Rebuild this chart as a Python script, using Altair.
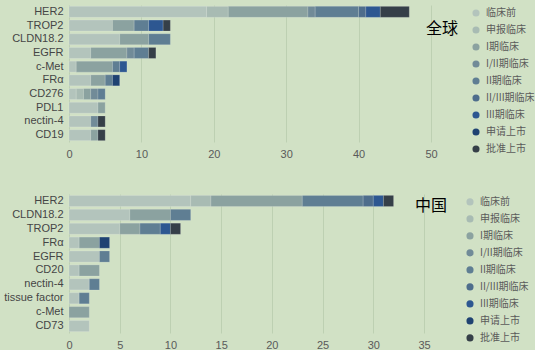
import altair as alt
import pandas as pd

stages = ["临床前", "申报临床", "I期临床", "I/II期临床", "II期临床",
          "II/III期临床", "III期临床", "申请上市", "批准上市"]
stage_colors = ["#b3c4bc", "#a8bbb3", "#8ba2a0", "#718b98", "#5f7e93",
                "#4e6d8c", "#2d5791", "#1f4272", "#353f48"]

# ---- 全球 ----
global_targets = ["HER2", "TROP2", "CLDN18.2", "EGFR", "c-Met", "FRα",
                  "CD276", "PDL1", "nectin-4", "CD19"]
g_preclinical = [19, 6, 7, 3, 1, 3, 1, 4, 3, 3]
g_ind = [3, 0, 0, 0, 0, 0, 1, 0, 0, 0]
g_p1 = [11, 3, 4, 5, 5, 2, 1, 1, 0, 1]
g_p12 = [1, 0, 0, 1, 0, 0, 1, 0, 1, 0]
g_p2 = [6, 2, 3, 2, 1, 1, 1, 0, 0, 0]
g_p23 = [1, 0, 0, 0, 0, 0, 0, 0, 0, 0]
g_p3 = [2, 2, 0, 0, 1, 0, 0, 0, 0, 0]
g_nda = [0, 0, 0, 0, 0, 1, 0, 0, 0, 0]
g_approved = [4, 1, 0, 1, 0, 0, 0, 0, 1, 1]

# ---- 中国 ----
china_targets = ["HER2", "CLDN18.2", "TROP2", "FRα", "EGFR", "CD20",
                 "nectin-4", "tissue factor", "c-Met", "CD73"]
c_preclinical = [12, 6, 5, 1, 3, 1, 2, 1, 0, 2]
c_ind = [2, 0, 0, 0, 0, 0, 0, 0, 0, 0]
c_p1 = [9, 4, 2, 2, 0, 2, 0, 0, 2, 0]
c_p12 = [0, 0, 0, 0, 0, 0, 0, 0, 0, 0]
c_p2 = [6, 2, 2, 0, 1, 0, 1, 1, 0, 0]
c_p23 = [1, 0, 0, 0, 0, 0, 0, 0, 0, 0]
c_p3 = [1, 0, 1, 0, 0, 0, 0, 0, 0, 0]
c_nda = [0, 0, 0, 1, 0, 0, 0, 0, 0, 0]
c_approved = [1, 0, 1, 0, 0, 0, 0, 0, 0, 0]

global_series = [g_preclinical, g_ind, g_p1, g_p12, g_p2, g_p23, g_p3, g_nda, g_approved]
china_series = [c_preclinical, c_ind, c_p1, c_p12, c_p2, c_p23, c_p3, c_nda, c_approved]

BG = "#d1e1c5"
CJK = "Noto Sans CJK SC"
LAT = "Liberation Sans"


def make_df(targets, series):
    rows = []
    for si, (stage, vals) in enumerate(zip(stages, series)):
        for t, v in zip(targets, vals):
            if v > 0:
                rows.append({"target": t, "stage": stage, "idx": si, "count": v})
    return pd.DataFrame(rows)


def panel(targets, series, xmax, step, label, lx, ly, legx, legy, cliph, w, h):
    df = make_df(targets, series)
    bars = alt.Chart(df).mark_bar(stroke="white", strokeOpacity=0.25, strokeWidth=0.6).encode(
        x=alt.X("count:Q", stack="zero",
                scale=alt.Scale(domain=[0, xmax], nice=False),
                axis=alt.Axis(values=list(range(0, xmax + 1, step)), title=None,
                              grid=True, domain=False, ticks=False, labelPadding=6,
                              labelFlush=False,
                              labelFont=LAT, labelFontSize=11, labelColor="#5a5a5a",
                              gridColor="#bdd0b2", gridWidth=1)),
        y=alt.Y("target:N", sort=targets,
                scale=alt.Scale(paddingInner=0.2, paddingOuter=0.1),
                axis=alt.Axis(title=None, ticks=False, domain=False, labelPadding=6,
                              minExtent=69, maxExtent=69, labelFont=LAT,
                              labelFontSize=11, labelColor="#454545")),
        color=alt.Color("stage:N", scale=alt.Scale(domain=stages, range=stage_colors),
                        legend=alt.Legend(title=None, orient="none", legendX=legx, legendY=legy,
                                          symbolType="circle", symbolSize=50,
                                          symbolStrokeWidth=0, symbolOpacity=1,
                                          labelFont=CJK, labelFontSize=10,
                                          labelColor="#5a5a5a", clipHeight=cliph,
                                          rowPadding=2, labelOffset=5, padding=0)),
        order=alt.Order("idx:Q"),
        tooltip=["target:N", "stage:N", "count:Q"],
    )
    txt = alt.Chart(pd.DataFrame({"t": [label]})).mark_text(
        font=CJK, fontSize=16, color="#000000", align="center", baseline="middle"
    ).encode(text="t:N", x=alt.value(lx), y=alt.value(ly))
    return alt.layer(bars, txt).properties(width=w, height=h)


top = panel(global_targets, global_series, 50, 10, "全球", 373, 24, 402, 1, 14.15, 362, 137)
bottom = panel(china_targets, china_series, 35, 5, "中国", 362, 12, 396, 0.6, 14.6, 355, 139)

chart = alt.vconcat(top, bottom, spacing=35).resolve_scale(
    color="independent", x="independent", y="independent"
).configure(
    background=BG,
    padding={"top": 5, "left": 0, "right": 0, "bottom": 0},
    font=CJK,
).configure_view(stroke=None)

chart.save("out.html", embed_options={"renderer": "svg", "actions": False})
